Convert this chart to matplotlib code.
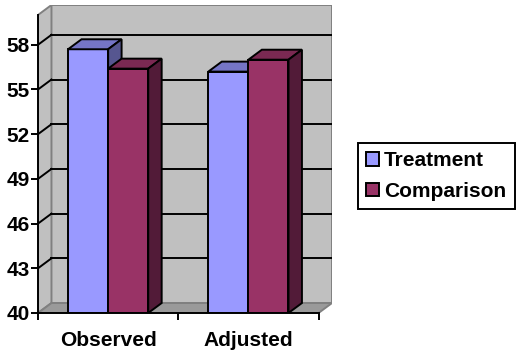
import matplotlib
matplotlib.use("Agg")
import matplotlib.pyplot as plt
from matplotlib.patches import Polygon, Rectangle, Patch

# Chart data
categories = ["Observed", "Adjusted"]
series_names = ["Treatment", "Comparison"]
treatment = [57.7, 56.2]
comparison = [56.4, 57.0]
y_ticks = [40, 43, 46, 49, 52, 55, 58]
y_min, y_max = 40, 60

front_colors = ["#9999FF", "#993366"]
top_colors = ["#7575C6", "#7A2952"]
side_colors = ["#565690", "#521B38"]

plt.rcParams["font.family"] = ["Liberation Sans", "DejaVu Sans"]

W, H = 518, 354
fig = plt.figure(figsize=(W / 100, H / 100), dpi=100)
fig.patch.set_facecolor("white")

# plot box in pixels (front-left-bottom corner to back-right-top corner)
x0_px, x1_px = 38, 332
y0_px, y1_px = 313, 5
ax = fig.add_axes([x0_px / W, 1 - y0_px / H, (x1_px - x0_px) / W, (y0_px - y1_px) / H])

DX = 0.096   # depth offset, category units
DY = 0.67    # depth offset, value units
ax.set_xlim(-0.5, 1.5 + DX)
ax.set_ylim(y_min, y_max + DY)
ax.set_frame_on(False)

LW = 1.4
wall_c = "#C0C0C0"
wall_edge = "#808080"

# back wall, side wall, floor
ax.add_patch(Rectangle((-0.5 + DX, y_min + DY), 2, y_max - y_min,
                       facecolor=wall_c, edgecolor=wall_edge, lw=LW, zorder=1))
ax.add_patch(Polygon([(-0.5, y_min), (-0.5 + DX, y_min + DY),
                      (-0.5 + DX, y_max + DY), (-0.5, y_max)],
                     closed=True, facecolor=wall_c, edgecolor=wall_edge, lw=LW, zorder=1))
ax.add_patch(Polygon([(-0.5, y_min), (1.5, y_min), (1.5 + DX, y_min + DY),
                      (-0.5 + DX, y_min + DY)],
                     closed=True, facecolor="#9A9A9A", edgecolor=wall_edge, lw=LW, zorder=1.5))

# gridlines on back and side walls
for v in y_ticks[1:]:
    ax.plot([-0.5 + DX, 1.5 + DX], [v + DY, v + DY], color="black", lw=LW, zorder=2)
    ax.plot([-0.5, -0.5 + DX], [v, v + DY], color="black", lw=LW, zorder=2)

# front axis line and floor front edge
ax.plot([-0.5, -0.5], [y_min, y_max], color="black", lw=LW, zorder=6, clip_on=False)
ax.plot([-0.5, 1.5], [y_min, y_min], color="black", lw=LW, zorder=6, clip_on=False)

# 3D columns
BW = 0.2857
bars = []
for i in range(len(categories)):
    bars.append((i - BW, treatment[i], 0))
    bars.append((i, comparison[i], 1))

for k, (xl, val, s) in enumerate(bars):
    z = 3 + 0.01 * k
    kw = dict(edgecolor="black", lw=LW, joinstyle="miter", zorder=z)
    ax.bar(xl, val - y_min, width=BW, bottom=y_min, align="edge",
           color=front_colors[s], **kw)
    ax.add_patch(Polygon([(xl, val), (xl + BW, val), (xl + BW + DX, val + DY),
                          (xl + DX, val + DY)], closed=True,
                         facecolor=top_colors[s], **kw))
    ax.add_patch(Polygon([(xl + BW, y_min), (xl + BW + DX, y_min + DY),
                          (xl + BW + DX, val + DY), (xl + BW, val)], closed=True,
                         facecolor=side_colors[s], **kw))

# axes ticks and labels
ax.set_yticks(y_ticks)
ax.set_yticklabels([str(v) for v in y_ticks], fontsize=15, fontweight="bold")
ax.tick_params(axis="y", direction="out", length=5, width=LW, pad=1)

ax.set_xticks([-0.5, 0.5, 1.5])
ax.set_xticklabels([])
ax.tick_params(axis="x", which="major", direction="out", length=5, width=LW)
ax.set_xticks([0, 1], minor=True)
ax.set_xticklabels(categories, minor=True, fontsize=15, fontweight="bold")
ax.tick_params(axis="x", which="minor", length=0, pad=13)

# legend
handles = [Patch(facecolor=c, edgecolor="black", lw=LW) for c in front_colors]
leg = fig.legend(handles, series_names, loc="upper left",
                 bbox_to_anchor=(358 / W, 1 - 143 / H), borderaxespad=0,
                 frameon=True, fancybox=False, framealpha=1, edgecolor="black",
                 prop=dict(size=15, weight="bold"),
                 handlelength=0.6, handleheight=0.6, handletextpad=0.25,
                 borderpad=0.4, labelspacing=0.55)
leg.get_frame().set_linewidth(LW)

fig.savefig("out.png", dpi=100)
